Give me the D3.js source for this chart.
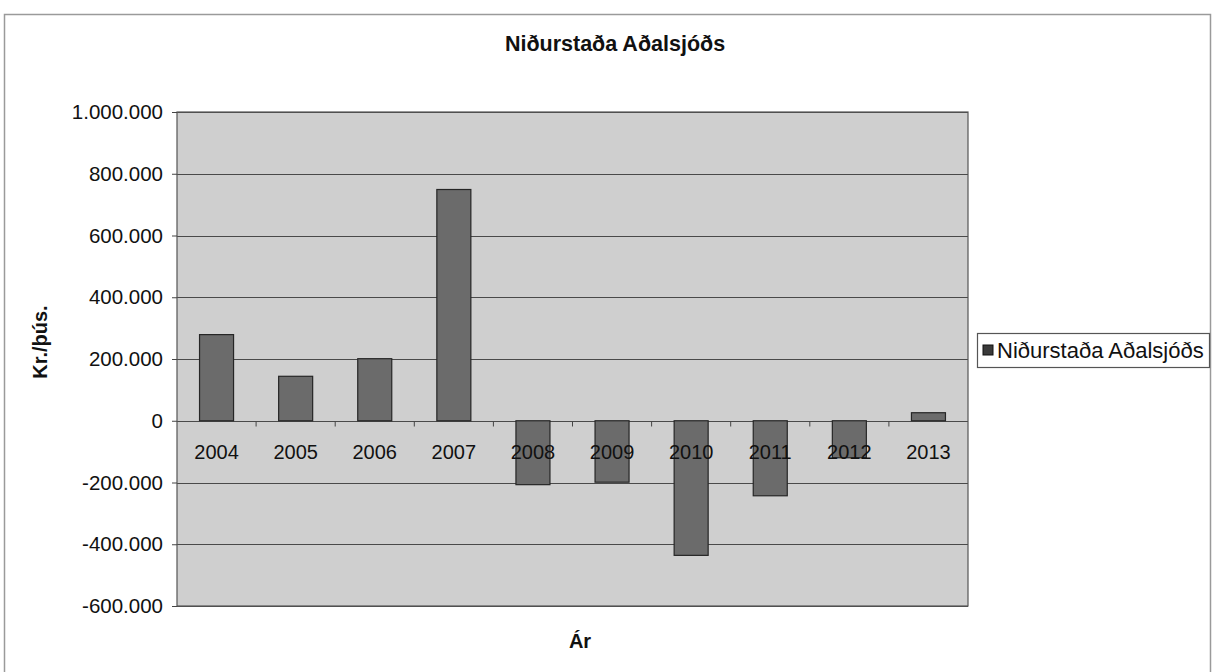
<!DOCTYPE html>
<html>
<head>
<meta charset="utf-8">
<script src="https://cdn.jsdelivr.net/npm/d3@7"></script>
<style>
  body { margin: 0; background: #ffffff; }
  svg { display: block; font-family: "Liberation Sans", Arial, sans-serif; }
</style>
</head>
<body>
<div id="chart"></div>
<script>
// Gögn
const years  = ["2004", "2005", "2006", "2007", "2008", "2009", "2010", "2011", "2012", "2013"];
const values = [279000, 144000, 201000, 749000, -207000, -199000, -436000, -243000, -120000, 26000];
const yTicks = [-600000, -400000, -200000, 0, 200000, 400000, 600000, 800000, 1000000];
const seriesName = "Niðurstaða Aðalsjóðs";

const W = 1212, H = 672;
const plot = { left: 177, right: 968, top: 112, bottom: 606 };

const isl = d3.formatLocale({ decimal: ",", thousands: ".", grouping: [3], currency: ["", ""], minus: "-" });
const fmt = isl.format(",d");

const svg = d3.select("#chart").append("svg")
    .attr("width", W)
    .attr("height", H);

// Rammi utan um myndina
svg.append("rect")
    .attr("x", 4.5).attr("y", 14.5)
    .attr("width", 1206).attr("height", 700)
    .attr("fill", "#ffffff")
    .attr("stroke", "#9a9a9a")
    .attr("stroke-width", 1.5);

// Kvarðar
const x = d3.scaleBand()
    .domain(years)
    .range([plot.left, plot.right])
    .paddingInner(0.57)
    .paddingOuter(0.285);

const y = d3.scaleLinear()
    .domain([-600000, 1000000])
    .range([plot.bottom, plot.top]);

// Bakgrunnur teiknisvæðis
svg.append("rect")
    .attr("x", plot.left).attr("y", plot.top)
    .attr("width", plot.right - plot.left)
    .attr("height", plot.bottom - plot.top)
    .attr("fill", "#cfcfcf");

// Hnitalínur
svg.append("g")
    .selectAll("line")
    .data(yTicks)
    .enter()
    .append("line")
    .attr("x1", plot.left).attr("x2", plot.right)
    .attr("y1", d => Math.round(y(d)) + 0.5)
    .attr("y2", d => Math.round(y(d)) + 0.5)
    .attr("stroke", "#4a4a4a")
    .attr("stroke-width", 1.2);

// Súlur
svg.append("g")
    .selectAll("rect")
    .data(values)
    .enter()
    .append("rect")
    .attr("x", (d, i) => x(years[i]))
    .attr("y", d => y(Math.max(0, d)))
    .attr("width", x.bandwidth())
    .attr("height", d => Math.abs(y(d) - y(0)))
    .attr("fill", "#6b6b6b")
    .attr("stroke", "#262626")
    .attr("stroke-width", 1.2);

// Rammi teiknisvæðis
svg.append("rect")
    .attr("x", plot.left).attr("y", plot.top)
    .attr("width", plot.right - plot.left)
    .attr("height", plot.bottom - plot.top)
    .attr("fill", "none")
    .attr("stroke", "#555555")
    .attr("stroke-width", 1.2);

// Y ás
const yAxis = svg.append("g")
    .attr("transform", `translate(${plot.left},0)`)
    .call(d3.axisLeft(y).tickValues(yTicks).tickFormat(fmt).tickSize(5).tickPadding(9));
yAxis.select(".domain").remove();
yAxis.selectAll("line").attr("stroke", "#444");
yAxis.selectAll("text")
    .style("font-size", "20.5px")
    .style("fill", "#111")
    .style("font-family", "'Liberation Sans', Arial, sans-serif");

// X ás við núlllínu
const x0 = Math.round(y(0)) + 0.5;
const step = x.step();
const boundaries = d3.range(1, years.length).map(i => x(years[i]) - x.paddingInner() * step / 2);
svg.append("g")
    .selectAll("line")
    .data(boundaries)
    .enter()
    .append("line")
    .attr("x1", d => d).attr("x2", d => d)
    .attr("y1", x0).attr("y2", x0 + 5)
    .attr("stroke", "#444");

svg.append("g")
    .selectAll("text")
    .data(years)
    .enter()
    .append("text")
    .attr("x", d => x(d) + x.bandwidth() / 2)
    .attr("y", 459)
    .attr("text-anchor", "middle")
    .style("font-size", "20px")
    .style("fill", "#111")
    .text(d => d);

// Titill
svg.append("text")
    .attr("x", 615)
    .attr("y", 51)
    .attr("text-anchor", "middle")
    .style("font-size", "21.5px")
    .style("font-weight", "bold")
    .style("fill", "#111")
    .text(seriesName);

// Ásaheiti
svg.append("text")
    .attr("transform", "translate(47,342) rotate(-90)")
    .attr("text-anchor", "middle")
    .style("font-size", "20px")
    .style("font-weight", "bold")
    .style("fill", "#111")
    .text("Kr./þús.");

svg.append("text")
    .attr("x", 580)
    .attr("y", 648)
    .attr("text-anchor", "middle")
    .style("font-size", "20px")
    .style("font-weight", "bold")
    .style("fill", "#111")
    .text("Ár");

// Skýring
const legend = svg.append("g");
legend.append("rect")
    .attr("x", 977.5).attr("y", 333.5)
    .attr("width", 232).attr("height", 34)
    .attr("fill", "#ffffff")
    .attr("stroke", "#555")
    .attr("stroke-width", 1.2);
legend.append("rect")
    .attr("x", 983).attr("y", 345)
    .attr("width", 10).attr("height", 10)
    .attr("fill", "#3a3a3a")
    .attr("stroke", "#111");
legend.append("text")
    .attr("x", 997)
    .attr("y", 358)
    .style("font-size", "22px")
    .style("fill", "#111")
    .text(seriesName);
</script>
</body>
</html>
